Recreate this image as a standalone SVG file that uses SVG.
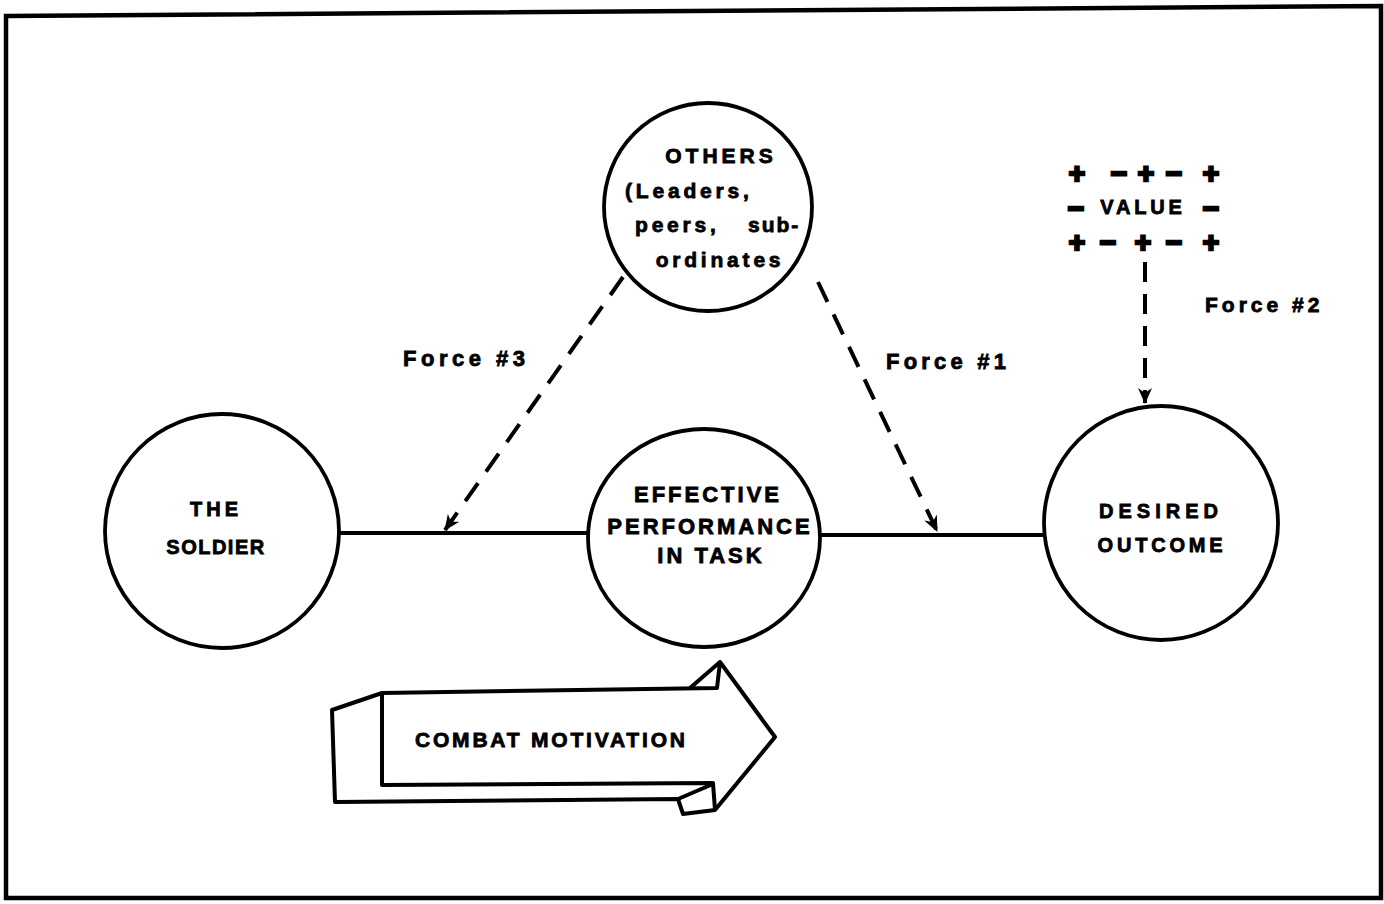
<svg xmlns="http://www.w3.org/2000/svg" width="1384" height="904" viewBox="0 0 1384 904">
<style>
.t{font-family:"Liberation Sans",Arial,sans-serif;font-weight:bold;fill:#000;stroke:#000;stroke-width:0.8}
.pm{stroke-width:2.6}
.node{fill:#fff;stroke:#000;stroke-width:3.8}
.ln{stroke:#000;stroke-width:4;fill:none}
.dash{stroke:#000;stroke-width:4;fill:none;stroke-dasharray:22 14}
</style>
<defs>
<marker id="ah" viewBox="0 0 16 16" refX="15" refY="8" markerWidth="16" markerHeight="16" markerUnits="userSpaceOnUse" orient="auto">
<path d="M0,1 L16,8 L0,15 L5,8 Z" fill="#000"/>
</marker>
</defs>
<rect width="1384" height="904" fill="#fff"/>
<path d="M6,16 L1381,6 L1381,898 L6,898 Z" fill="none" stroke="#000" stroke-width="4.5"/>

<g id="connectors">
<line class="ln" x1="338" y1="533" x2="588" y2="533"/>
<line class="ln" x1="821" y1="535" x2="1046" y2="535"/>
<path class="dash" d="M623,277 L445,530" marker-end="url(#ah)"/>
<path class="dash" d="M818,282 L937,531" marker-end="url(#ah)"/>
<path class="dash" d="M1145,262 L1145,403" style="stroke-dasharray:20 12" marker-end="url(#ah)"/>
<text class="t" x="403" y="366" font-size="22" letter-spacing="4.5">Force #3</text>
<text class="t" x="886" y="369" font-size="22" letter-spacing="4.2">Force #1</text>
<text class="t" x="1205" y="312" font-size="21" letter-spacing="4">Force #2</text>
</g>

<g id="others">
<circle class="node" cx="708" cy="207" r="104"/>
<text class="t" x="721" y="163" font-size="21" letter-spacing="4" text-anchor="middle">OTHERS</text>
<text class="t" x="625" y="198" font-size="21" letter-spacing="3.8">(Leaders,</text>
<text class="t" x="635" y="232" font-size="21" letter-spacing="3.8">peers,</text>
<text class="t" x="748" y="232" font-size="21" letter-spacing="2">sub-</text>
<text class="t" x="720" y="267" font-size="21" letter-spacing="3.8" text-anchor="middle">ordinates</text>
</g>

<g id="value">
<g class="t pm" font-size="28" text-anchor="middle">
<text x="1077" y="183">+</text><text x="1119" y="183">−</text><text x="1146" y="183">+</text><text x="1174" y="183">−</text><text x="1211" y="183">+</text>
<text x="1076" y="218">−</text><text x="1211" y="218">−</text>
<text x="1077" y="252">+</text><text x="1108" y="252">−</text><text x="1143" y="252">+</text><text x="1174" y="252">−</text><text x="1211" y="252">+</text>
</g>
<text class="t" x="1143" y="214" font-size="20" letter-spacing="3.8" text-anchor="middle">VALUE</text>
</g>

<g id="soldier">
<circle class="node" cx="222" cy="531" r="117"/>
<text class="t" x="216" y="516" font-size="20" letter-spacing="4" text-anchor="middle">THE</text>
<text class="t" x="216" y="554" font-size="20" letter-spacing="1.5" text-anchor="middle">SOLDIER</text>
</g>

<g id="effective">
<ellipse class="node" cx="704" cy="538" rx="116" ry="109"/>
<text class="t" x="708" y="502" font-size="22" letter-spacing="3" text-anchor="middle">EFFECTIVE</text>
<text class="t" x="710" y="534" font-size="22" letter-spacing="3" text-anchor="middle">PERFORMANCE</text>
<text class="t" x="711" y="563" font-size="22" letter-spacing="3" text-anchor="middle">IN TASK</text>
</g>

<g id="desired">
<circle class="node" cx="1161" cy="523" r="117"/>
<text class="t" x="1161" y="518" font-size="20" letter-spacing="5" text-anchor="middle">DESIRED</text>
<text class="t" x="1162" y="552" font-size="20" letter-spacing="3.8" text-anchor="middle">OUTCOME</text>
</g>

<g id="combat-motivation">
<path d="M382,693 L717,688 L720,662 L775,737 L715,810 L683,814 L678,799 L335,802 L332,710 Z" fill="#fff" stroke="#000" stroke-width="4" stroke-linejoin="round"/>
<path d="M382,693 L382,785 L713,783 L715,810 M690,688 L720,662 M678,799 L713,784" fill="none" stroke="#000" stroke-width="4" stroke-linejoin="round"/>
<text class="t" x="415" y="747" font-size="21" letter-spacing="2.8">COMBAT MOTIVATION</text>
</g>
</svg>
